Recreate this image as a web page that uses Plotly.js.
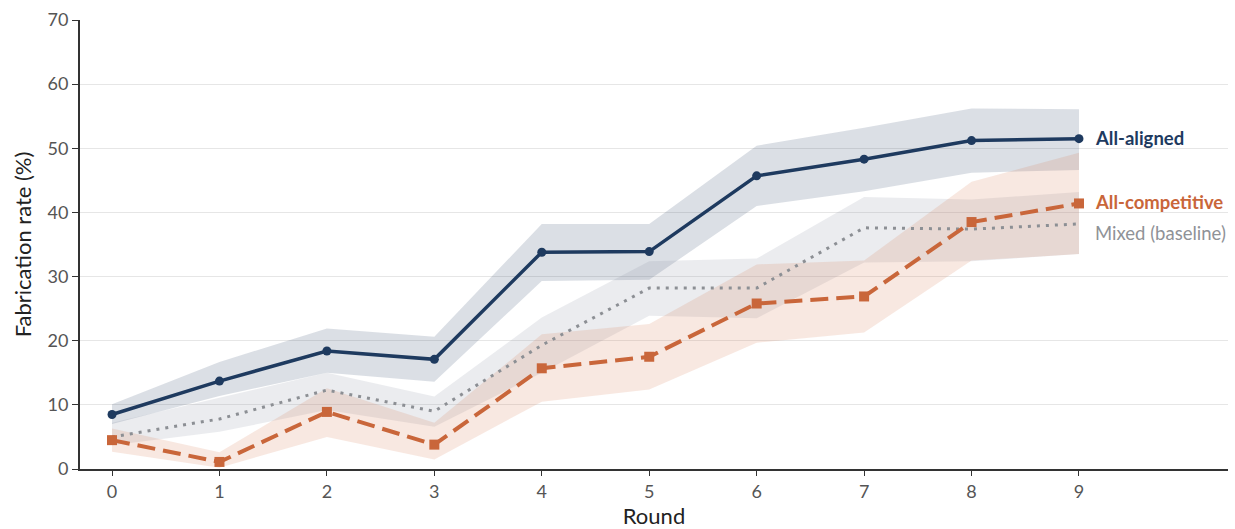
<!DOCTYPE html>
<html>
<head>
<meta charset="utf-8">
<script src="https://cdn.plot.ly/plotly-3.0.1.min.js"></script>
<style>
  html, body { margin: 0; padding: 0; background: #ffffff; }
  #chart { width: 1235px; height: 529px; }
</style>
</head>
<body>
<div id="chart"></div>
<script>
// ---- Data ----
const rounds = [0, 1, 2, 3, 4, 5, 6, 7, 8, 9];

const alignedMean  = [8.5, 13.7, 18.4, 17.1, 33.8, 33.9, 45.7, 48.3, 51.2, 51.5];
const alignedUpper = [10.1, 16.7, 21.9, 20.6, 38.2, 38.2, 50.4, 53.2, 56.2, 56.1];
const alignedLower = [7.0, 11.4, 15.0, 13.6, 29.3, 29.5, 41.0, 43.3, 46.2, 46.6];

const competitiveMean  = [4.5, 1.1, 8.9, 3.8, 15.7, 17.5, 25.8, 26.9, 38.5, 41.4];
const competitiveUpper = [6.3, 2.6, 12.6, 7.2, 21.0, 22.6, 31.9, 32.5, 44.8, 49.3];
const competitiveLower = [2.7, 0.2, 5.0, 1.5, 10.5, 12.4, 19.7, 21.3, 32.5, 33.5];

const mixedMean  = [5.0, 7.8, 12.3, 9.0, 19.3, 28.2, 28.2, 37.6, 37.4, 38.2];
const mixedUpper = [7.2, 11.1, 15.0, 11.3, 23.6, 32.4, 32.8, 42.4, 42.0, 43.2];
const mixedLower = [3.7, 5.8, 9.2, 6.6, 15.0, 23.9, 23.5, 32.2, 32.4, 33.5];

const seriesNames = ["All-aligned", "All-competitive", "Mixed (baseline)"];

// ---- Style ----
const navy = "#1e3a5f";
const orange = "#c9663a";
const gray = "#8c8f94";
const FONT = "Lato, 'Open Sans', 'DejaVu Sans', sans-serif";

function band(upper, lower, fill) {
  return {
    x: rounds.concat(rounds.slice().reverse()),
    y: upper.concat(lower.slice().reverse()),
    type: "scatter", mode: "lines", fill: "toself",
    fillcolor: fill, line: { width: 0, color: "rgba(0,0,0,0)" },
    hoverinfo: "skip", showlegend: false
  };
}

const traces = [
  band(alignedUpper, alignedLower, "rgba(30,58,95,0.16)"),
  band(mixedUpper, mixedLower, "rgba(135,145,158,0.17)"),
  band(competitiveUpper, competitiveLower, "rgba(214,120,80,0.17)"),
  {
    x: rounds, y: mixedMean, type: "scatter", mode: "lines",
    name: seriesNames[2],
    line: { color: gray, width: 3, dash: "3px,6px" }, showlegend: false
  },
  {
    x: rounds, y: competitiveMean, type: "scatter", mode: "lines+markers",
    name: seriesNames[1],
    line: { color: orange, width: 4, dash: "18px,8px" },
    marker: { symbol: "square", size: 10, color: orange }, showlegend: false
  },
  {
    x: rounds, y: alignedMean, type: "scatter", mode: "lines+markers",
    name: seriesNames[0],
    line: { color: navy, width: 3.5 },
    marker: { symbol: "circle", size: 9, color: navy }, showlegend: false
  }
];

const last = rounds.length - 1;
const annotations = [
  { x: rounds[last], y: alignedMean[last], text: "<b>" + seriesNames[0] + "</b>",
    font: { color: navy, size: 18.5, family: FONT }, yshift: 1 },
  { x: rounds[last], y: competitiveMean[last], text: "<b>" + seriesNames[1] + "</b>",
    font: { color: orange, size: 18.5, family: FONT }, yshift: 1 },
  { x: rounds[last], y: mixedMean[last], text: seriesNames[2],
    font: { color: "#8f9297", size: 18.5, family: FONT }, yshift: -9 }
].map(a => Object.assign({ xref: "x", yref: "y", xanchor: "left", yanchor: "middle",
  showarrow: false, xshift: 14 }, a));

const layout = {
  width: 1235, height: 529,
  margin: { l: 80, r: 7, t: 20, b: 60 },
  paper_bgcolor: "#ffffff", plot_bgcolor: "#ffffff",
  font: { family: FONT, color: "#555555", size: 18 },
  showlegend: false,
  xaxis: {
    range: [-0.298, 10.387],
    tickvals: rounds, ticktext: rounds.map(String),
    showgrid: false, zeroline: false,
    showline: true, linecolor: "#333333", linewidth: 2,
    ticks: "outside", ticklen: 5, tickwidth: 1, tickcolor: "#333333",
    tickfont: { size: 18, color: "#555555", family: FONT },
    title: { text: "Round", font: { size: 22, color: "#222222", family: FONT }, standoff: 9 }
  },
  yaxis: {
    range: [0, 70],
    tickvals: [0, 10, 20, 30, 40, 50, 60, 70],
    showgrid: true, gridcolor: "#e6e6e6", gridwidth: 1, zeroline: false,
    showline: true, linecolor: "#333333", linewidth: 2,
    ticks: "outside", ticklen: 6, tickwidth: 1, tickcolor: "#333333",
    tickfont: { size: 18, color: "#555555", family: FONT },
    title: { text: "Fabrication rate (%)", font: { size: 22, color: "#222222", family: FONT }, standoff: 10 }
  },
  annotations: annotations
};

Plotly.newPlot("chart", traces, layout, { displayModeBar: false, staticPlot: true });
</script>
</body>
</html>
